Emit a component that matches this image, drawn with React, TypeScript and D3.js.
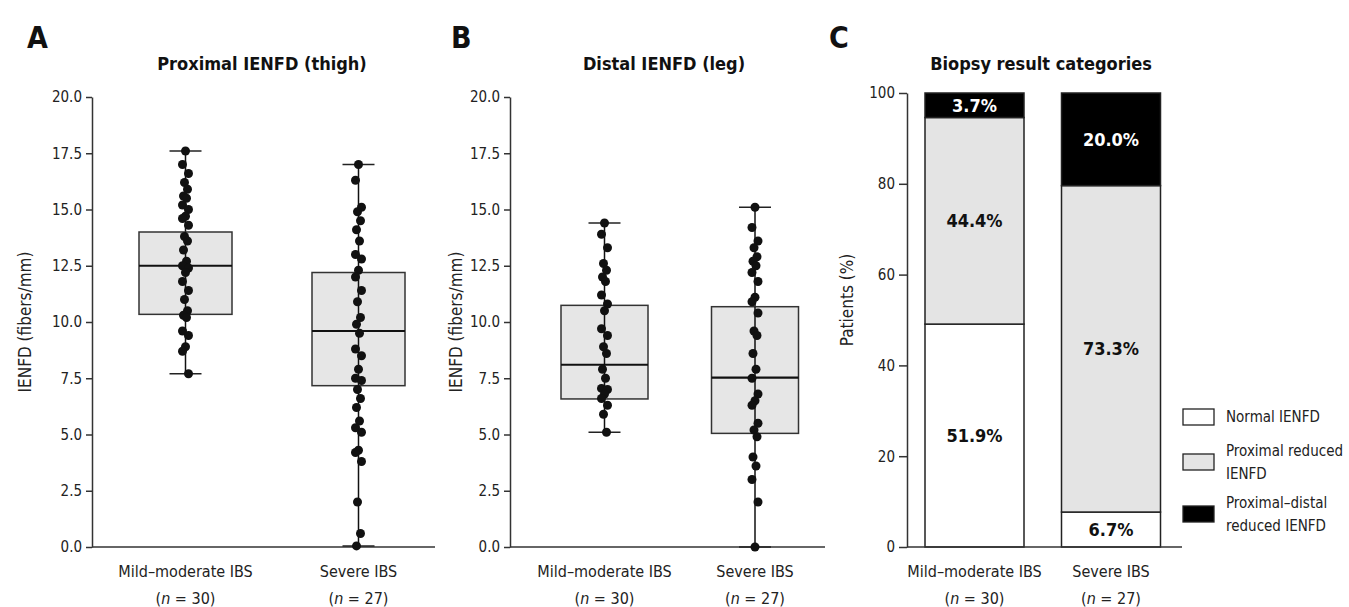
import { useEffect, useRef } from "react"
import * as d3 from "d3"

const FONT = "'Liberation Sans Narrow', 'DejaVu Sans Condensed', Roboto, sans-serif"

const groups = ["Mild–moderate IBS", "Severe IBS"]
const groupN = ["30", "27"]

// IENFD values (fibers/mm)
const proximalMild = [17.6, 17.0, 16.6, 16.2, 15.9, 15.6, 15.5, 15.2, 15.0, 14.7, 14.6, 14.3, 13.8, 13.6, 13.2, 12.7, 12.5, 12.4, 12.2, 11.8, 11.4, 11.0, 10.5, 10.3, 10.2, 9.6, 9.4, 8.9, 8.7, 7.7]
const proximalSevere = [17.0, 16.3, 15.1, 14.9, 14.5, 14.1, 13.6, 13.0, 12.8, 12.3, 12.0, 11.4, 10.9, 10.2, 9.9, 9.5, 8.8, 8.5, 7.9, 7.5, 7.4, 7.0, 6.6, 6.2, 5.6, 5.3, 5.1, 4.3, 4.2, 3.8, 2.0, 0.6, 0.05]
const distalMild = [14.4, 13.9, 13.3, 12.6, 12.3, 12.0, 11.8, 11.2, 10.8, 10.5, 9.7, 9.4, 8.9, 8.6, 7.9, 7.5, 7.05, 7.0, 6.8, 6.6, 6.3, 5.9, 5.1]
const distalSevere = [15.1, 14.2, 13.6, 13.3, 12.9, 12.7, 12.5, 12.2, 11.8, 11.1, 10.9, 10.4, 9.6, 9.4, 8.6, 7.9, 7.5, 6.8, 6.5, 6.3, 5.5, 5.2, 4.9, 4.0, 3.6, 3.0, 2.0, 0.0]

// [whisker low, Q1, median, Q3, whisker high]
const proximalBoxes = [[7.7, 10.34, 12.5, 14.0, 17.6], [0.05, 7.17, 9.6, 12.2, 17.0]]
const distalBoxes = [[5.1, 6.58, 8.1, 10.74, 14.4], [0.0, 5.05, 7.53, 10.68, 15.1]]

const ienfdTicks = [0, 2.5, 5, 7.5, 10, 12.5, 15, 17.5, 20]
const pctTicks = [0, 20, 40, 60, 80, 100]

// biopsy categories, bottom to top
const categoryFill = ["#ffffff", "#e4e4e4", "#000000"]
const legendLines = [["Normal IENFD"], ["Proximal reduced", "IENFD"], ["Proximal–distal", "reduced IENFD"]]
const mildPct = [49.1, 45.5, 5.4]
const severePct = [7.7, 71.9, 20.4]
const mildLabels = ["51.9%", "44.4%", "3.7%"]
const severeLabels = ["6.7%", "73.3%", "20.0%"]

const jitter = [0, -3, 3, -1, 2, -2, 1, -3, 3]

export default function App() {
    const ref = useRef(null)

    useEffect(() => {
        document.body.style.margin = "0"
        const svg = d3.select(ref.current)
        svg.selectAll("*").remove()

        const top = 97, bottom = 547

        const drawXLabels = (g, x) => {
            groups.forEach((name, i) => {
                const t = g.append("text")
                    .attr("x", x(name))
                    .attr("text-anchor", "middle")
                    .style("font-family", FONT)
                    .style("font-size", "16px")
                    .attr("fill", "#222")
                t.append("tspan").attr("x", x(name)).attr("y", bottom + 30).text(name)
                const t2 = t.append("tspan").attr("x", x(name)).attr("y", bottom + 57)
                t2.append("tspan").text("(")
                t2.append("tspan").style("font-style", "italic").text("n")
                t2.append("tspan").text(` = ${groupN[i]})`)
            })
        }

        const drawTitle = (letter, lx, title, tx) => {
            svg.append("text").attr("x", lx).attr("y", 48)
                .style("font-family", FONT).style("font-size", "30px").style("font-weight", "bold")
                .attr("fill", "#111").text(letter)
            svg.append("text").attr("x", tx).attr("y", 70).attr("text-anchor", "middle")
                .style("font-family", FONT).style("font-size", "18px").style("font-weight", "bold")
                .attr("fill", "#111").text(title)
        }

        const drawYLabel = (text, x, y) => {
            svg.append("text")
                .attr("transform", `translate(${x}, ${y}) rotate(-90)`)
                .attr("text-anchor", "middle")
                .style("font-family", FONT).style("font-size", "17px")
                .attr("fill", "#222").text(text)
        }

        const styleAxis = (a) => {
            a.select(".domain").attr("stroke", "#333").attr("stroke-width", 1.5)
            a.selectAll(".tick line").attr("stroke", "#333").attr("stroke-width", 1.5)
            a.selectAll(".tick text").style("font-family", FONT).style("font-size", "15px").attr("fill", "#222")
        }

        const drawBoxPanel = ({ x0, x1, centers, boxW, values, boxes }) => {
            const y = d3.scaleLinear().domain([0, 20]).range([bottom, top])
            const x = d3.scalePoint().domain(groups).range(centers)
            const g = svg.append("g")

            const yAxis = g.append("g")
                .attr("transform", `translate(${x0}, 0)`)
                .call(d3.axisLeft(y).tickValues(ienfdTicks).tickFormat(d3.format(".1f")).tickSize(6).tickSizeOuter(0).tickPadding(4))
            styleAxis(yAxis)

            g.append("line")
                .attr("x1", x0).attr("x2", x1)
                .attr("y1", y(0)).attr("y2", y(0))
                .attr("stroke", "#333").attr("stroke-width", 1.5)

            groups.forEach((name, i) => {
                const [lo, q1, med, q3, hi] = boxes[i]
                const cx = x(name)
                g.append("line").attr("x1", cx).attr("x2", cx).attr("y1", y(lo)).attr("y2", y(hi))
                    .attr("stroke", "#111").attr("stroke-width", 1.5)
                g.selectAll(`.cap${i}`).data([lo, hi]).join("line")
                    .attr("x1", cx - 16).attr("x2", cx + 16)
                    .attr("y1", (d) => y(d)).attr("y2", (d) => y(d))
                    .attr("stroke", "#222").attr("stroke-width", 1.5)
                g.append("rect")
                    .attr("x", cx - boxW / 2).attr("width", boxW)
                    .attr("y", y(q3)).attr("height", y(q1) - y(q3))
                    .attr("fill", "#e6e6e6").attr("stroke", "#333").attr("stroke-width", 1.5)
                g.append("line").attr("x1", cx).attr("x2", cx).attr("y1", y(q1)).attr("y2", y(q3))
                    .attr("stroke", "#111").attr("stroke-width", 1.5)
                g.append("line").attr("x1", cx - boxW / 2).attr("x2", cx + boxW / 2)
                    .attr("y1", y(med)).attr("y2", y(med))
                    .attr("stroke", "#111").attr("stroke-width", 2.2)
                g.append("g").selectAll("circle").data(values[i]).join("circle")
                    .attr("cx", (d, j) => cx + jitter[j % jitter.length])
                    .attr("cy", (d) => y(d))
                    .attr("r", 4.5)
                    .attr("fill", "#111")
            })

            drawXLabels(g, x)
        }

        // Panel A
        drawTitle("A", 27, "Proximal IENFD (thigh)", 262)
        drawYLabel("IENFD (fibers/mm)", 31, 322)
        drawBoxPanel({ x0: 92, x1: 435, centers: [185.5, 358.5], boxW: 93, values: [proximalMild, proximalSevere], boxes: proximalBoxes })

        // Panel B
        drawTitle("B", 451, "Distal IENFD (leg)", 664)
        drawYLabel("IENFD (fibers/mm)", 462, 322)
        drawBoxPanel({ x0: 510, x1: 825, centers: [604.5, 755], boxW: 87, values: [distalMild, distalSevere], boxes: distalBoxes })

        // Panel C
        drawTitle("C", 829, "Biopsy result categories", 1041)
        drawYLabel("Patients (%)", 853, 300)
        const yp = d3.scaleLinear().domain([0, 100]).range([bottom, top - 4])
        const xc = d3.scalePoint().domain(groups).range([974.5, 1111])
        const barW = 99
        const gc = svg.append("g")

        const stacks = [mildPct, severePct]
        const labels = [mildLabels, severeLabels]
        groups.forEach((name, i) => {
            const cum = d3.cumsum(stacks[i])
            stacks[i].forEach((v, k) => {
                const y0 = cum[k] - v, y1 = cum[k]
                gc.append("rect")
                    .attr("x", xc(name) - barW / 2).attr("width", barW)
                    .attr("y", yp(y1)).attr("height", yp(y0) - yp(y1))
                    .attr("fill", categoryFill[k]).attr("stroke", "#222").attr("stroke-width", 1.5)
                gc.append("text")
                    .attr("x", xc(name)).attr("y", yp((y0 + y1) / 2))
                    .attr("dy", "0.36em").attr("text-anchor", "middle")
                    .style("font-family", FONT).style("font-size", "18px").style("font-weight", "bold")
                    .attr("fill", k === 2 ? "#fff" : "#111")
                    .text(labels[i][k])
            })
        })

        const pAxis = gc.append("g")
            .attr("transform", "translate(907, 0)")
            .call(d3.axisLeft(yp).tickValues(pctTicks).tickFormat(d3.format("d")).tickSize(8).tickSizeOuter(0).tickPadding(4))
        styleAxis(pAxis)

        gc.append("line")
            .attr("x1", 907).attr("x2", 1182)
            .attr("y1", yp(0)).attr("y2", yp(0))
            .attr("stroke", "#333").attr("stroke-width", 1.5)

        drawXLabels(gc, xc)

        // legend
        const legendY = [417, 462, 514]
        const lg = gc.append("g")
        legendLines.forEach((lines, k) => {
            lg.append("rect")
                .attr("x", 1183).attr("y", legendY[k] - 8)
                .attr("width", 31).attr("height", 16)
                .attr("fill", categoryFill[k]).attr("stroke", "#222").attr("stroke-width", 1.3)
            const t = lg.append("text")
                .style("font-family", FONT).style("font-size", "15px").attr("fill", "#222")
            lines.forEach((line, j) => {
                t.append("tspan")
                    .attr("x", 1226)
                    .attr("y", legendY[k] + (j - (lines.length - 1) / 2) * 23)
                    .attr("dy", "0.36em")
                    .text(line)
            })
        })
    }, [])

    return (
        <svg ref={ref} width={1349} height={607} style={{ display: "block", background: "#fff" }}></svg>
    )
}
